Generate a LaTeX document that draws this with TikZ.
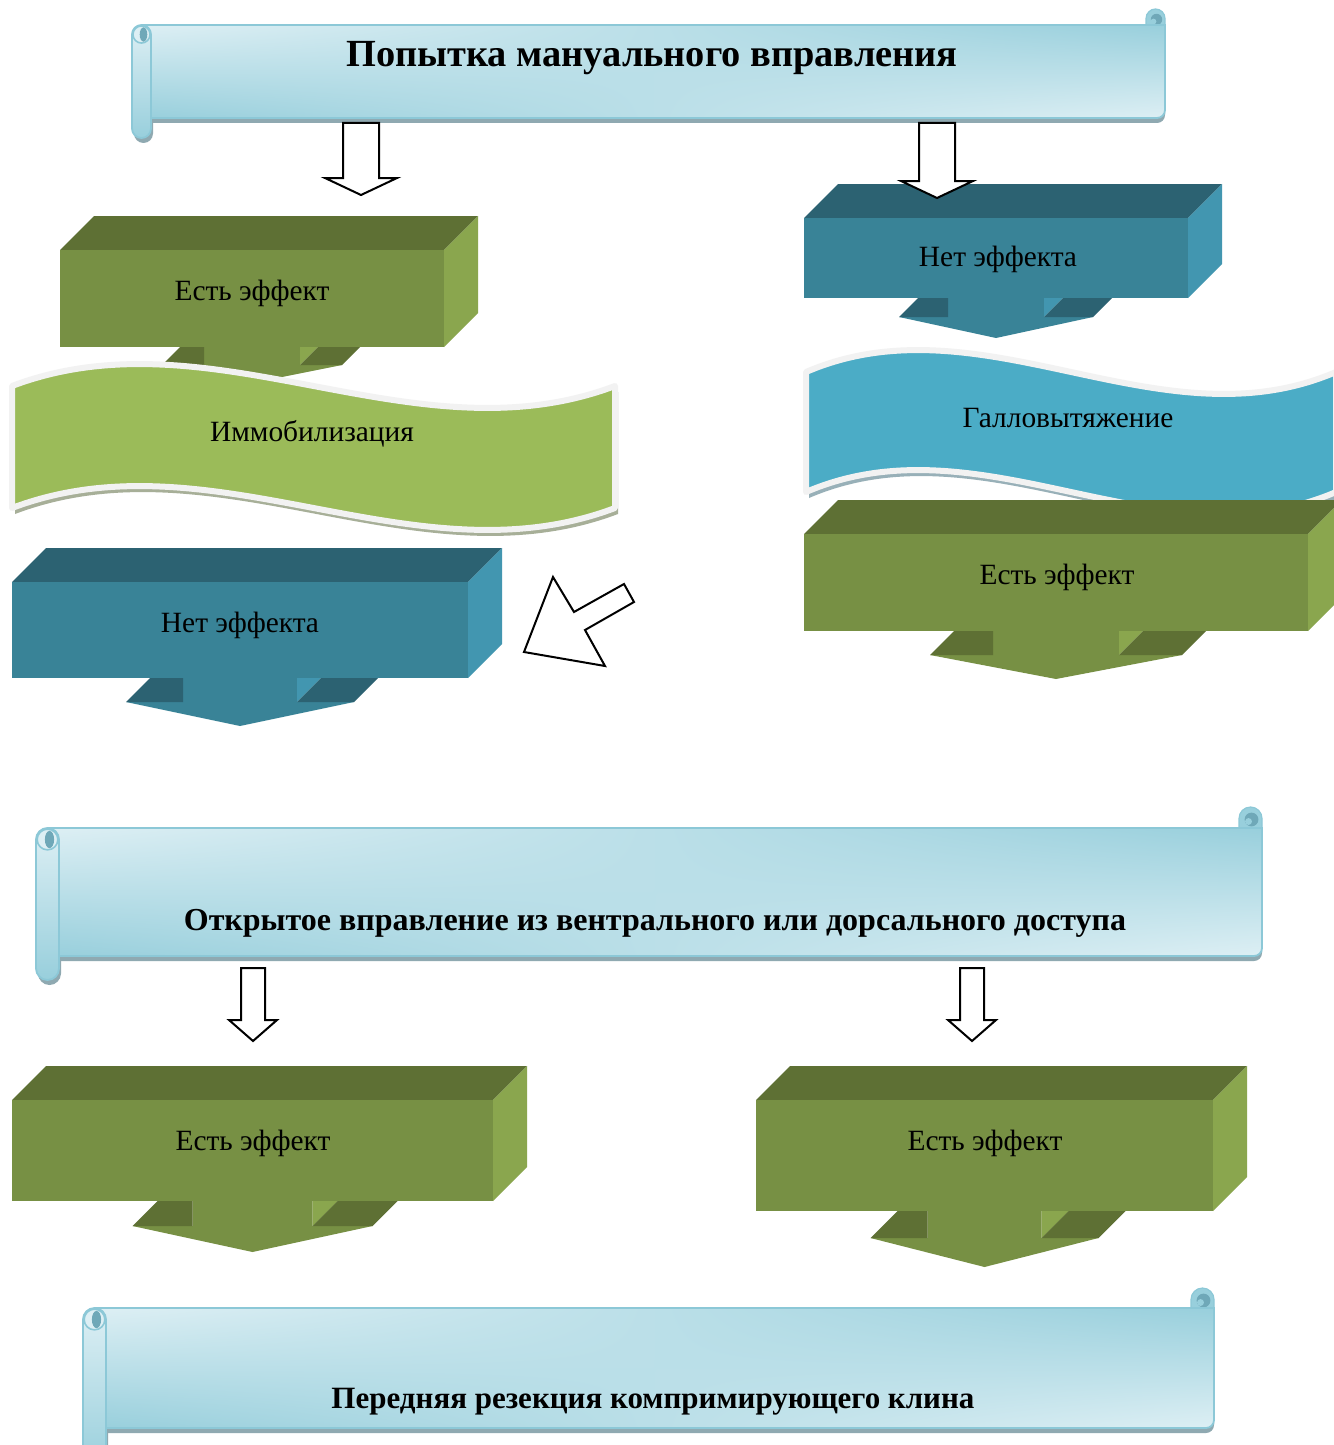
\documentclass[tikz,border=0pt]{standalone}
\usepackage{fontspec}
\setmainfont{Liberation Serif}
\usetikzlibrary{calc,shadings}
\definecolor{gfront}{HTML}{779044}
\definecolor{gtop}{HTML}{5E7034}
\definecolor{gside}{HTML}{8AA64E}
\definecolor{bfront}{HTML}{398397}
\definecolor{btop}{HTML}{2C6272}
\definecolor{bside}{HTML}{4296B0}
\definecolor{wgreen}{HTML}{9BBB59}
\definecolor{wblue}{HTML}{4BACC6}
\definecolor{wborder}{HTML}{F2F2F2}
\definecolor{wgshadow}{HTML}{A7AF98}
\definecolor{wbshadow}{HTML}{98B0B8}
\definecolor{sclight}{HTML}{DDEFF4}
\definecolor{scdark}{HTML}{98CFDC}
\definecolor{scline}{HTML}{8CC8D7}
\definecolor{scshadow}{HTML}{8FA9B1}
\definecolor{schole}{HTML}{6FA8B8}

\newcommand\lblfont{\fontsize{14.7}{17}\selectfont}
\newcommand\ttlfont{\fontsize{19.2}{22}\selectfont\bfseries}
\newcommand\hdfontA{\fontsize{16}{19}\selectfont\bfseries}
\newcommand\hdfontB{\fontsize{15.5}{18}\selectfont\bfseries}

% 3D box with down arrow: x1,y1,x2,y2, stem half, flange half, stem height, head height, colour prefix
\newcommand\cbox[9]{%
 \pgfmathsetmacro\cx{(#1+#3)/2}%
 \pgfmathsetmacro\hy{#4+#7}%
 \pgfmathsetmacro\ty{#4+#7+#8}%
 \pgfmathsetmacro\sl{\cx-#5}\pgfmathsetmacro\sr{\cx+#5}%
 \pgfmathsetmacro\fl{\cx-#6}\pgfmathsetmacro\fr{\cx+#6}%
 \fill[#9top] (#1,#2) -- (#1+34,#2-34) -- (#3+34,#2-34) -- (#3,#2) -- cycle;
 \fill[#9side] (#3,#2) -- (#3+34,#2-34) -- (#3+34,#4-34) -- (#3,#4) -- cycle;
 \fill[#9front] (#1,#2) rectangle (#3,#4);
 \fill[#9front] (\sl,#4) -- (\sr,#4) -- (\sr,\hy) -- (\fr,\hy) -- (\cx,\ty) -- (\fl,\hy) -- (\sl,\hy) -- cycle;
 \fill[#9top] (\fl,\hy) -- (\sl,\hy) -- (\sl,#4) -- (\fl+#7,#4) -- cycle;
 \fill[#9side] (\sr,#4) -- (\sr+#7,#4) -- (\sr,\hy) -- cycle;
 \fill[#9top] (\sr,\hy) -- (\fr,\hy) -- (\fr+#7,#4) -- (\sr+#7,#4) -- cycle;
}

% wave: left, right, top base, bottom base, fill, shadow
\newcommand\wave[6]{%
 \pgfmathsetmacro\wa{#1+(#2-#1)/3}\pgfmathsetmacro\wb{#1+2*(#2-#1)/3}%
 \fill[#6] ($(#1,#3)+(3,6)$) .. controls ($(\wa,#3-76)+(3,6)$) and ($(\wb,#3+76)+(3,6)$) .. ($(#2,#3)+(3,6)$) -- ($(#2,#4)+(3,6)$) .. controls ($(\wb,#4+76)+(3,6)$) and ($(\wa,#4-76)+(3,6)$) .. ($(#1,#4)+(3,6)$) -- cycle;
 \filldraw[fill=#5, draw=wborder, line width=3pt, line join=round] (#1,#3) .. controls (\wa,#3-76) and (\wb,#3+76) .. (#2,#3) -- (#2,#4) .. controls (\wb,#4+76) and (\wa,#4-76) .. (#1,#4) -- cycle;
}

% scroll: roll left, roll right, top, body bottom, roll bottom, body right, curl top
\newcommand\scroll[7]{%
 \pgfmathsetmacro\rc{(#1+#2)/2}%
 \pgfmathsetmacro\rw{#2-#1}%
 \pgfmathsetmacro\rpt{(#2-#1)/4}%
 \fill[scshadow] (\rc,#3+5) -- (#6,#3+5) [rounded corners=4pt] -- (#6,#4+5) [sharp corners] -- (\rc,#4+5) -- cycle;
 \fill[scshadow, rounded corners=\rpt pt] (#1+2,#3+5) rectangle (#2+2,#5+5);
 \filldraw[fill=scdark, draw=scline, line width=0.6pt] (#6-\rw,#3+3) -- (#6-\rw,#7+\rw/2) arc[start angle=180, end angle=0, radius=\rpt pt] -- (#6,#3+3) -- cycle;
 \fill[schole] (#6-\rw/2+1,#7+\rw/2+1) circle[radius=\rpt*0.6 pt];
 \fill[scdark] (#6-\rw/2-2,#7+\rw/2+3) circle[radius=\rpt*0.3 pt];
 \shade[upper left=sclight, lower left=scdark, upper right=scdark, lower right=sclight] (\rc,#3) -- (#6,#3) [rounded corners=4pt] -- (#6,#4) [sharp corners] -- (\rc,#4) -- cycle;
 \draw[scline, line width=0.9pt] (\rc,#3) -- (#6,#3) [rounded corners=4pt] -- (#6,#4) [sharp corners] -- (\rc,#4);
 \shade[top color=sclight, bottom color=scdark, rounded corners=\rpt pt] (#1,#3) rectangle (#2,#5);
 \draw[scline, line width=0.9pt, rounded corners=\rpt pt] (#1,#3) rectangle (#2,#5);
 \filldraw[fill=sclight, draw=scline, line width=0.8pt] (\rc,#3+\rw/2) circle[radius=\rpt*0.9 pt];
 \fill[schole] (\rc+2,#3+\rw/2) ellipse[x radius=\rpt*0.4 pt, y radius=\rpt*0.75 pt];
}

% block arrow: cx, top, shaft half, head half, neck, tip
\newcommand\barrow[6]{%
 \draw[line width=1pt, fill=white, line join=miter] (#1-#3,#2) -- (#1+#3,#2) -- (#1+#3,#5) -- (#1+#4,#5) -- (#1,#6) -- (#1-#4,#5) -- (#1-#3,#5) -- cycle;
}

\begin{document}
\begin{tikzpicture}[x=0.5pt, y=-0.5pt,
  lbl/.style={inner sep=0pt, font=\lblfont, text=black},
  ttl/.style={inner sep=0pt, font=\ttlfont, text=black},
  hdA/.style={inner sep=0pt, font=\hdfontA, text=black},
  hdB/.style={inner sep=0pt, font=\hdfontB, text=black}]
\useasboundingbox (0,0) rectangle (1333,1445);
\fill[white] (0,0) rectangle (1333,1445);

% top scroll
\scroll{132}{151}{25}{118}{138}{1165}{9}
\node[ttl] (title) at (652,58) {Попытка мануального вправления};

% left column
\cbox{60}{250}{444}{347}{48}{90}{18}{18}{g}
\node[lbl] (yes1) at (252,293) {Есть эффект};
\wave{12}{615}{386}{508}{wgreen}{wgshadow}
\node[lbl] (immob) at (312,434) {Иммобилизация};
\cbox{12}{582}{468}{678}{57}{114}{24}{24}{b}
\node[lbl] (no2) at (240,625) {Нет эффекта};

% right column
\cbox{804}{218}{1188}{298}{48}{97}{19}{21}{b}
\node[lbl] (no1) at (998,259) {Нет эффекта};
\wave{806}{1336}{372}{492}{wblue}{wbshadow}
\node[lbl] (gallo) at (1068,418) {Галловытяжение};
\cbox{804}{534}{1308}{631}{63}{126}{24}{24}{g}
\node[lbl] (yes2) at (1057,577) {Есть эффект};

% white block arrows
\barrow{361}{123}{18}{36}{178}{195}
\barrow{937}{123}{18}{36}{181}{198}
\draw[line width=1pt, fill=white] (524,652) -- (553,577) -- (574,612) -- (624,584) -- (634,602) -- (585,630) -- (605,666) -- cycle;

% middle scroll
\scroll{36}{59}{828}{956}{980}{1262}{807}
\node[hdA] (open) at (655,923) {Открытое вправление из вентрального или дорсального доступа};

\cbox{12}{1100}{493}{1201}{60}{120}{25}{26}{g}
\node[lbl] (yes3) at (253,1143) {Есть эффект};
\cbox{756}{1100}{1213}{1211}{57}{114}{27}{29}{g}
\node[lbl] (yes4) at (985,1143) {Есть эффект};

\barrow{253}{968}{12}{24}{1020}{1041}
\barrow{972}{968}{12}{24}{1020}{1041}

% bottom scroll
\scroll{83}{106}{1308}{1428}{1470}{1214}{1288}
\node[hdB] (resect) at (653,1402) {Передняя резекция компримирующего клина};
\end{tikzpicture}
\end{document}
